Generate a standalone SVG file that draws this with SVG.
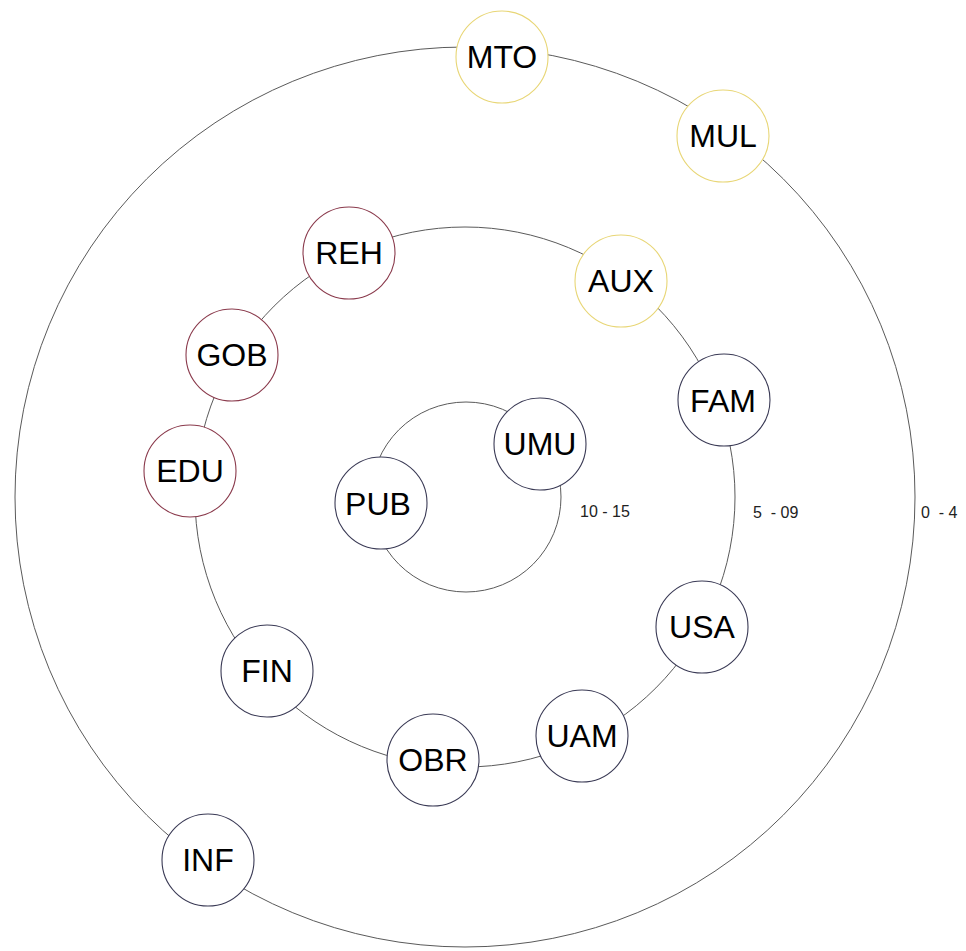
<svg xmlns="http://www.w3.org/2000/svg" width="966" height="951" viewBox="0 0 966 951">
<style>
.ring{fill:none;stroke:#5a5a5a;stroke-width:1}
.n{fill:#fff;stroke-width:1.1}
.y{stroke:#e8d676}
.r{stroke:#8a3a4c}
.b{stroke:#3a3a55}
.t{font-family:"Liberation Sans",Arial,sans-serif;font-size:32px;fill:#000;text-anchor:middle}
.lab{font-family:"Liberation Sans",Arial,sans-serif;font-size:16px;fill:#222;white-space:pre}
</style>
<rect width="966" height="951" fill="#fff"/>
<g id="connectors">
<circle class="ring" cx="465" cy="497" r="450"/>
<circle class="ring" cx="465" cy="497" r="270"/>
<circle class="ring" cx="466" cy="497" r="95"/>
</g>
<g id="labels">
<text class="lab" x="580" y="517">10 - 15</text>
<text class="lab" x="753" y="518">5  - 09</text>
<text class="lab" x="921" y="518">0  - 4</text>
</g>
<g id="MTO"><circle class="n y" cx="502" cy="57" r="46"/><text class="t" x="502" y="68">MTO</text></g>
<g id="MUL"><circle class="n y" cx="723" cy="136" r="46"/><text class="t" x="723" y="147">MUL</text></g>
<g id="AUX"><circle class="n y" cx="621" cy="281" r="46"/><text class="t" x="621" y="292">AUX</text></g>
<g id="REH"><circle class="n r" cx="349" cy="253" r="46"/><text class="t" x="349" y="264">REH</text></g>
<g id="GOB"><circle class="n r" cx="232" cy="355" r="46"/><text class="t" x="232" y="366">GOB</text></g>
<g id="EDU"><circle class="n r" cx="190" cy="471" r="46"/><text class="t" x="190" y="482">EDU</text></g>
<g id="FAM"><circle class="n b" cx="724" cy="400" r="46"/><text class="t" x="723" y="412">FAM</text></g>
<g id="UMU"><circle class="n b" cx="540" cy="444" r="46"/><text class="t" x="540" y="455">UMU</text></g>
<g id="PUB"><circle class="n b" cx="381" cy="503" r="46"/><text class="t" x="378" y="515">PUB</text></g>
<g id="USA"><circle class="n b" cx="702" cy="627" r="46"/><text class="t" x="702" y="638">USA</text></g>
<g id="FIN"><circle class="n b" cx="267" cy="671" r="46"/><text class="t" x="267" y="682">FIN</text></g>
<g id="UAM"><circle class="n b" cx="582" cy="736" r="46"/><text class="t" x="582" y="747">UAM</text></g>
<g id="OBR"><circle class="n b" cx="433" cy="760" r="46"/><text class="t" x="433" y="771">OBR</text></g>
<g id="INF"><circle class="n b" cx="208" cy="860" r="46"/><text class="t" x="208" y="871">INF</text></g>
</svg>
